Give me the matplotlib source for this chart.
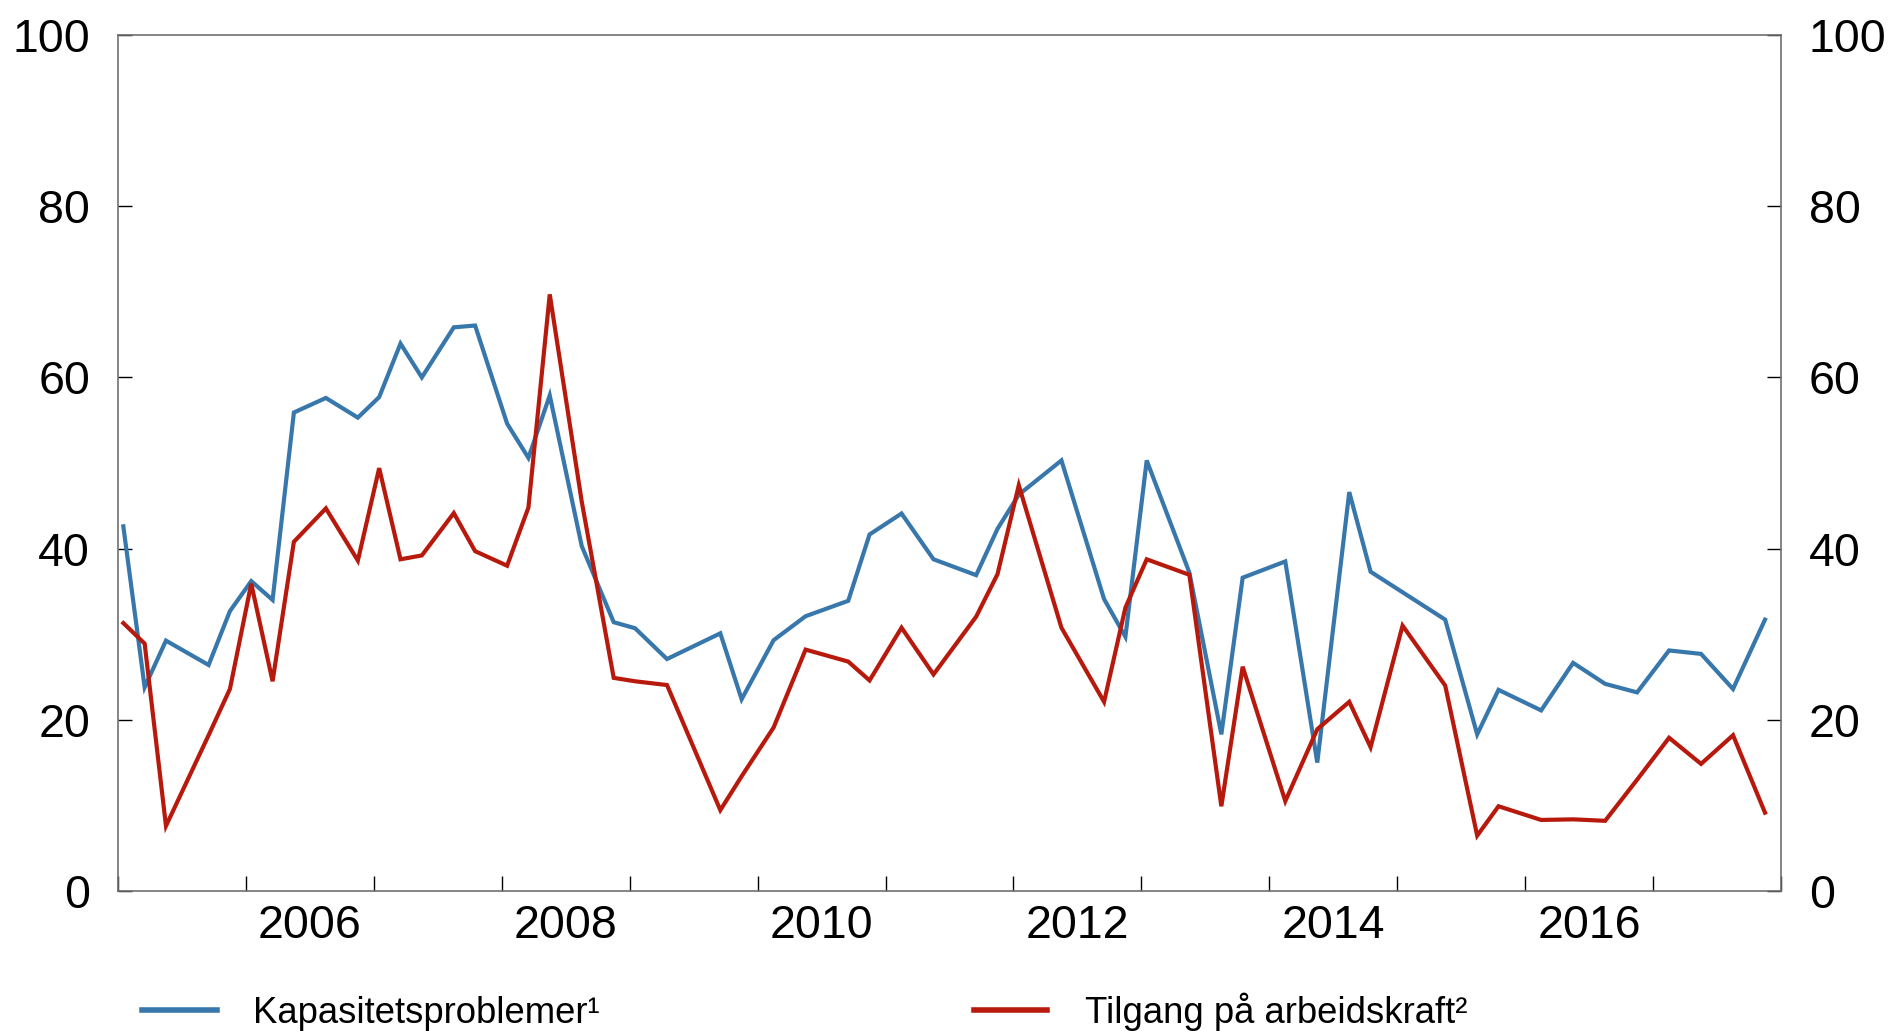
import matplotlib
matplotlib.use("Agg")
import matplotlib.pyplot as plt
from matplotlib.lines import Line2D
import numpy as np

plt.rcParams['font.family'] = ['Liberation Sans', 'DejaVu Sans']

# Survey months (year-month)
dates = [
    "2005-01", "2005-03", "2005-05", "2005-09", "2005-11",
    "2006-01", "2006-03", "2006-05", "2006-08", "2006-11",
    "2007-01", "2007-03", "2007-05", "2007-08", "2007-10",
    "2008-01", "2008-03", "2008-05", "2008-08", "2008-11",
    "2009-01", "2009-04", "2009-09", "2009-11",
    "2010-02", "2010-05", "2010-09", "2010-11",
    "2011-02", "2011-05", "2011-09", "2011-11",
    "2012-01", "2012-05", "2012-09", "2012-11",
    "2013-01", "2013-05", "2013-08", "2013-10",
    "2014-02", "2014-05", "2014-08", "2014-10",
    "2015-01", "2015-05", "2015-08", "2015-10",
    "2016-02", "2016-05", "2016-08", "2016-11",
    "2017-02", "2017-05", "2017-08", "2017-11",
]

kapasitet = [
    42.6, 23.8, 29.25, 26.4, 32.7,
    36.2, 34.0, 55.9, 57.6, 55.3,
    57.7, 63.95, 60.0, 65.85, 66.06,
    54.6, 50.6, 57.9, 40.3, 31.4,
    30.7, 27.1, 30.1, 22.4,
    29.3, 32.1, 33.9, 41.65,
    44.1, 38.75, 36.9, 42.3,
    46.3, 50.3, 34.1, 29.7,
    50.3, 37.2, 18.3, 36.6,
    38.5, 15.0, 46.6, 37.3,
    34.9, 31.7, 18.3, 23.5,
    21.1, 26.65, 24.2, 23.2,
    28.1, 27.7, 23.6, 31.7,
]

arbeidskraft = [
    31.3, 28.9, 7.6, 18.2, 23.6,
    35.9, 24.5, 40.8, 44.7, 38.6,
    49.4, 38.75, 39.2, 44.15, 39.7,
    38.0, 44.8, 69.7, 45.5, 24.9,
    24.5, 24.06, 9.45, 13.4,
    19.1, 28.2, 26.8, 24.6,
    30.76, 25.3, 32.05, 37.0,
    47.4, 30.76, 22.1, 33.1,
    38.75, 36.94, 9.9, 26.2,
    10.5, 18.9, 22.1, 16.8,
    31.0, 24.0, 6.47, 9.9,
    8.3, 8.37, 8.2, 13.0,
    17.9, 14.85, 18.2, 9.15,
]

year_labels = ["2006", "2008", "2010", "2012", "2014", "2016"]
y_ticks = [0, 20, 40, 60, 80, 100]
labels = ["Kapasitetsproblemer\u00b9", "Tilgang p\u00e5 arbeidskraft\u00b2"]

BLUE = "#3877AB"
RED = "#B8190D"

x = np.array([int(d[:4]) + (int(d[5:]) - 0.5) / 12 for d in dates])

W, H = 1890, 1031
fig = plt.figure(figsize=(W / 100, H / 100), dpi=100)
ax = fig.add_axes([118 / W, 1 - 891 / H, (1781 - 118) / W, (891 - 35) / H])

ax.plot(x, kapasitet, color=BLUE, lw=3.0, solid_joinstyle='miter')
ax.plot(x, arbeidskraft, color=RED, lw=3.0, solid_joinstyle='miter')

ax.set_xlim(2005, 2018)
ax.set_ylim(0, 100)

FS = 33.5
# x: major ticks at year boundaries, labels at mid-year
ax.set_xticks(np.arange(2005, 2019))
ax.set_xticklabels([])
ax.set_xticks([int(l) + 0.5 for l in year_labels], minor=True)
ax.set_xticklabels(year_labels, minor=True, fontsize=FS)
ax.tick_params(axis='x', which='major', direction='in', length=11, width=1.0, color='black')
ax.tick_params(axis='x', which='minor', length=0, pad=9)

ax.set_yticks(y_ticks)
ax.set_yticklabels([str(v) for v in y_ticks], fontsize=FS)
ax.tick_params(axis='y', which='major', direction='in', length=10, width=1.0, color='black',
               left=True, right=True, labelleft=True, labelright=True, pad=20)

for s in ax.spines.values():
    s.set_color('#6f6f6f')
    s.set_linewidth(1.2)

# legend (manual, below the plot)
ly = 1 - 1010 / H
fig.add_artist(Line2D([142 / W, 217 / W], [ly, ly], color=BLUE, lw=4, transform=fig.transFigure))
fig.add_artist(Line2D([974 / W, 1047 / W], [ly, ly], color=RED, lw=4, transform=fig.transFigure))
fig.text(253 / W, 1 - 1023 / H, labels[0], fontsize=26.3, va='baseline', ha='left')
fig.text(1085 / W, 1 - 1023 / H, labels[1], fontsize=26.3, va='baseline', ha='left')

fig.savefig("out.png", dpi=100)
